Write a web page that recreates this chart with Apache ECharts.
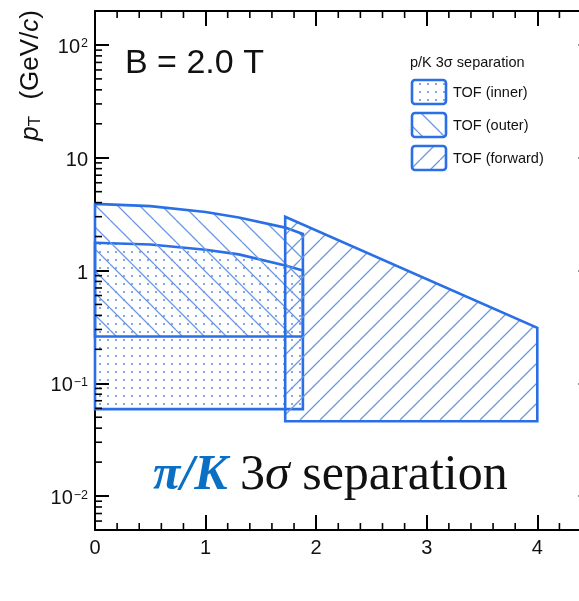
<!DOCTYPE html>
<html><head><meta charset="utf-8">
<script src="https://cdn.jsdelivr.net/npm/echarts@6/dist/echarts.min.js"></script>
<style>html,body{margin:0;padding:0;background:#fff;overflow:hidden}#c{width:620px;height:601px}</style>
</head><body><div id="c"></div>
<script>
// ---- data ----
const xMinorTicks = [0.2,0.4,0.6,0.8,1.2,1.4,1.6,1.8,2.2,2.4,2.6,2.8,3.2,3.4,3.6,3.8,4.2,4.4];
const yMinorTicks = [0.006,0.007,0.008,0.009,0.02,0.03,0.04,0.05,0.06,0.07,0.08,0.09,
  0.2,0.3,0.4,0.5,0.6,0.7,0.8,0.9,2,3,4,5,6,7,8,9,20,30,40,50,60,70,80,90];
const innerX = [0, 0.5, 1.0, 1.3, 1.72, 1.88];
const innerTop = [1.76, 1.70, 1.53, 1.39, 1.11, 1.0];
const innerBottom = 0.059;
const outerX = [0, 0.5, 1.0, 1.3, 1.72, 1.88];
const outerTop = [3.9, 3.72, 3.3, 2.95, 2.4, 2.11];
const outerBottom = 0.26;
const forwardX = [1.72, 4.0];
const forwardTop = [3.0, 0.31];
const forwardBottom = 0.046;
const legendTitle = 'p/K 3σ separation';
const legendNames = ['TOF (inner)', 'TOF (outer)', 'TOF (forward)'];
const fieldLabel = 'B = 2.0 T';

// ---- styles ----
const BLUE = '#2A6FE6';
const HATCH = '#6C99DD';
const FONT = 'Liberation Sans, Arial, Helvetica, sans-serif';
const SERIF = 'Liberation Serif, Times New Roman, serif';

function hatch(dir, h, color, lw) {
  const c = document.createElement('canvas'); c.width = h; c.height = h;
  const g = c.getContext('2d'); g.strokeStyle = color; g.lineWidth = lw;
  g.beginPath();
  for (let k = -1; k <= 1; k++) {
    if (dir === '/') { g.moveTo(k*h, h); g.lineTo(k*h + h, 0); }
    else { g.moveTo(k*h, 0); g.lineTo(k*h + h, h); }
  }
  g.stroke(); return c;
}
function dots(s, color, r) {
  const c = document.createElement('canvas'); c.width = s; c.height = s;
  const g = c.getContext('2d'); g.fillStyle = color;
  g.beginPath(); g.arc(s/2, s/2, r, 0, Math.PI*2); g.fill(); return c;
}
const patInner = {image: dots(8, '#5A8CE0', 1.0), repeat: 'repeat'};
const patOuter = {image: hatch('\\', 22, HATCH, 1.3), repeat: 'repeat'};
const patFwd = {image: hatch('/', 20, HATCH, 1.3), repeat: 'repeat'};

function bandSeries(name, xs, tops, bottom, pat) {
  return {
    type: 'custom', name, coordinateSystem: 'cartesian2d', silent: true, clip: false,
    data: [[xs[0], bottom]],
    renderItem: (params, api) => {
      const pts = xs.map((x, i) => api.coord([x, tops[i]]));
      pts.push(api.coord([xs[xs.length-1], bottom]));
      pts.push(api.coord([xs[0], bottom]));
      return {type: 'polygon', shape: {points: pts},
        style: {fill: pat, stroke: BLUE, lineWidth: 2.6, lineJoin: 'miter'}};
    }
  };
}

function fmtY(v) {
  const e = Math.round(Math.log10(v));
  if (e === 0) return '{b|1}';
  if (e === 1) return '{b|10}';
  return '{b|10}{s|' + (e < 0 ? '\u2212' + (-e) : e) + '}';
}

const axisLineStyle = {color: '#000', width: 2};
const xAxisBase = {
  type: 'value', min: 0, max: 4.5, interval: 1,
  axisLine: {show: true, onZero: false, lineStyle: axisLineStyle},
  axisTick: {show: true, inside: true, length: 15, lineStyle: {color: '#000', width: 2}},
  splitLine: {show: false}
};
const yAxisBase = {
  type: 'log', min: 0.005, max: 200, logBase: 10,
  axisLine: {show: true, onZero: false, lineStyle: axisLineStyle},
  axisTick: {show: true, inside: true, length: 14, lineStyle: {color: '#000', width: 2}},
  splitLine: {show: false}
};

const chart = echarts.init(document.getElementById('c'), null, {renderer: 'canvas'});
chart.setOption({
  animation: false,
  backgroundColor: '#fff',
  grid: {left: 95, top: 11, bottom: 71, right: 27.4, containLabel: false},
  xAxis: [
    Object.assign({}, xAxisBase, {position: 'bottom',
      axisLabel: {show: true, margin: 8, fontSize: 20, color: '#111', fontFamily: FONT,
        showMaxLabel: false, formatter: v => String(v)}}),
    Object.assign({}, xAxisBase, {position: 'top', axisLabel: {show: false}})
  ],
  yAxis: [
    Object.assign({}, yAxisBase, {position: 'left',
      axisLabel: {show: true, margin: 7, showMinLabel: false, showMaxLabel: false,
        formatter: fmtY, padding: [5, 0, 0, 0],
        rich: {
          b: {fontSize: 20, fontFamily: FONT, color: '#111'},
          s: {fontSize: 12.5, fontFamily: FONT, color: '#111', verticalAlign: 'top', padding: [0, 0, 0, 1]}
        }}}),
    Object.assign({}, yAxisBase, {position: 'right', axisLabel: {show: false}})
  ],
  series: [
    bandSeries(legendNames[0], innerX, innerTop, innerBottom, patInner),
    bandSeries(legendNames[1], outerX, outerTop, outerBottom, patOuter),
    {
      type: 'custom', name: legendNames[2], coordinateSystem: 'cartesian2d', silent: true, clip: false,
      data: [[forwardX[0], forwardBottom]],
      renderItem: (params, api) => {
        const pts = [api.coord([forwardX[0], forwardBottom])];
        forwardX.forEach((x, i) => pts.push(api.coord([x, forwardTop[i]])));
        pts.push(api.coord([forwardX[forwardX.length-1], forwardBottom]));
        return {type: 'polygon', shape: {points: pts},
          style: {fill: patFwd, stroke: BLUE, lineWidth: 2.6, lineJoin: 'miter'}};
      }
    },
    {
      type: 'custom', name: 'yminor', coordinateSystem: 'cartesian2d', silent: true, clip: false,
      data: yMinorTicks.map(v => [0, v]),
      renderItem: (params, api) => {
        const v = api.value(1);
        const p = api.coord([0, v]);
        const q = api.coord([4.5, v]);
        return {type: 'group', children: [
          {type: 'line', shape: {x1: p[0], y1: p[1], x2: p[0] + 7, y2: p[1]}, style: {stroke: '#000', lineWidth: 1.6}},
          {type: 'line', shape: {x1: q[0], y1: q[1], x2: q[0] - 7, y2: q[1]}, style: {stroke: '#000', lineWidth: 1.6}}
        ]};
      }
    },
    {
      type: 'custom', name: 'xminor', coordinateSystem: 'cartesian2d', silent: true, clip: false,
      data: xMinorTicks.map(v => [v, 0.005]),
      renderItem: (params, api) => {
        const x = api.value(0);
        const b = api.coord([x, 0.005]);
        const t = api.coord([x, 200]);
        return {type: 'group', children: [
          {type: 'line', shape: {x1: b[0], y1: b[1], x2: b[0], y2: b[1] - 7}, style: {stroke: '#000', lineWidth: 1.6}},
          {type: 'line', shape: {x1: t[0], y1: t[1], x2: t[0], y2: t[1] + 7}, style: {stroke: '#000', lineWidth: 1.6}}
        ]};
      }
    }
  ],
  graphic: [
    {type: 'text', x: 125, y: 64, style: {text: fieldLabel, font: '34px ' + FONT, fill: '#111', verticalAlign: 'middle'}},
    {type: 'text', x: 31, y: 10, rotation: Math.PI / 2,
      style: {text: '{i|p}{sub|T}{n| (GeV/}{i|c}{n|)}', align: 'right', verticalAlign: 'middle',
        rich: {
          i: {fontSize: 26, fontFamily: FONT, fontStyle: 'italic', fill: '#111'},
          n: {fontSize: 26, fontFamily: FONT, fill: '#111'},
          sub: {fontSize: 17, fontFamily: FONT, fill: '#111', verticalAlign: 'bottom', padding: [0, 9, 0, 0]}
        }}},
    {type: 'text', x: 410, y: 63, style: {text: legendTitle, font: '14.5px ' + FONT, fill: '#111', verticalAlign: 'middle'}},
    ...legendNames.map((n, i) => ({
      type: 'rect', shape: {x: 412, y: 80 + 33 * i, width: 34, height: 24, r: 3},
      style: {fill: [patInner, patOuter, patFwd][i], stroke: BLUE, lineWidth: 2.6}
    })),
    ...legendNames.map((n, i) => ({
      type: 'text', x: 453, y: 93 + 33 * i,
      style: {text: n, font: '14.5px ' + FONT, fill: '#111', verticalAlign: 'middle'}
    })),
    {type: 'text', x: 153, y: 476,
      style: {text: '{pk|π/K} {n|3}{s|σ}{n| separation}', verticalAlign: 'middle',
        font: '50px ' + SERIF, fill: '#111',
        rich: {
          pk: {fontSize: 50, fontFamily: SERIF, fontWeight: 'bold', fontStyle: 'italic', fill: '#0B6FC4'},
          n: {fontSize: 50, fontFamily: SERIF, fill: '#111'},
          s: {fontSize: 50, fontFamily: SERIF, fontStyle: 'italic', fill: '#111'}
        }}}
  ]
});
</script></body></html>
